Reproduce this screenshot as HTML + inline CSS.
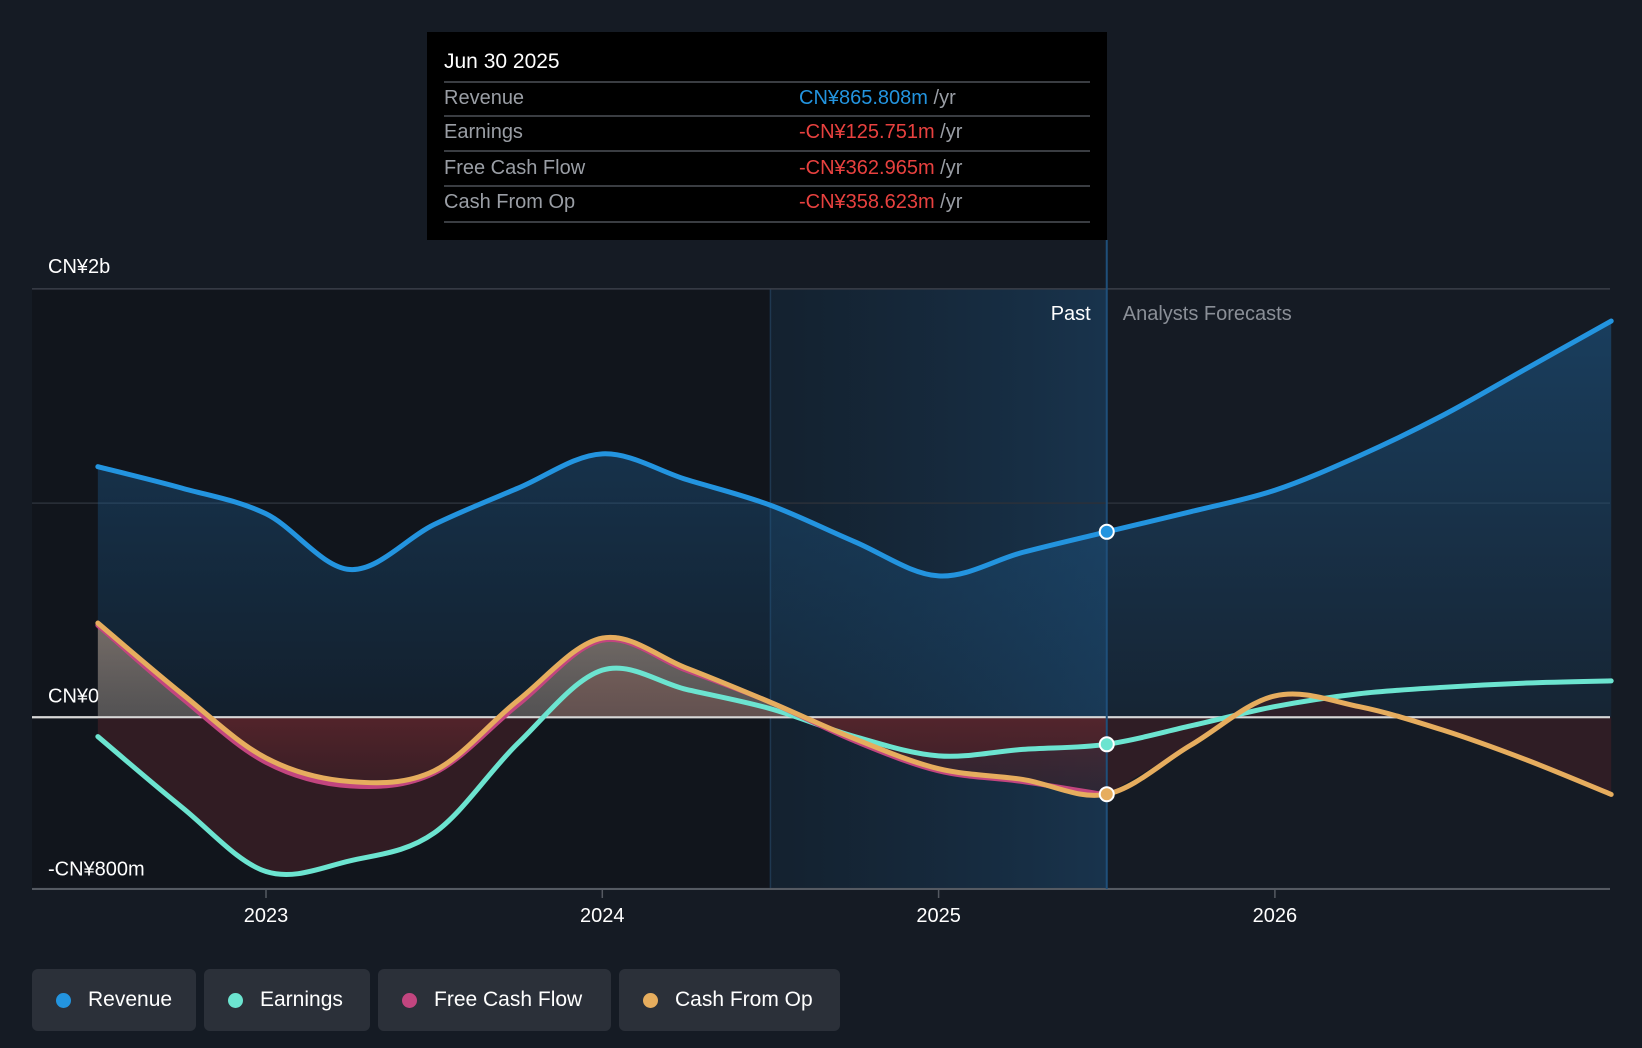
<!DOCTYPE html>
<html><head><meta charset="utf-8"><style>
body{margin:0;background:#151b24;width:1642px;height:1048px;overflow:hidden;font-family:"Liberation Sans",sans-serif;}
svg{position:absolute;left:0;top:0}
.leg{position:absolute;top:969px;height:62px;background:#2b3039;border-radius:6px;color:#fff;font-size:21px;display:flex;align-items:center}
.leg i{display:inline-block;width:15px;height:15px;border-radius:50%;margin:0 17px 0 24px}
.tl{position:absolute;left:17px;color:#9a9ea5;font-size:20px;line-height:24px}
.tv{position:absolute;left:372px;color:#9a9ea5;font-size:20px;line-height:24px}
.ln{position:absolute;left:17px;right:17px;border-top:2px solid #3a3d42}
</style></head><body>
<svg width="1642" height="1048" id="ch">
<defs>
<linearGradient id="revg" x1="0" y1="0" x2="0" y2="1"><stop offset="0" stop-color="#1d5a8c" stop-opacity="0.55"/><stop offset="1" stop-color="#1d5a8c" stop-opacity="0.15"/></linearGradient>
<linearGradient id="pastg" x1="0" y1="0" x2="1" y2="0"><stop offset="0" stop-color="#123049" stop-opacity="0.3"/><stop offset="1" stop-color="#1a3e5e" stop-opacity="0.7"/></linearGradient>
<linearGradient id="negg" x1="0" y1="0" x2="0" y2="1"><stop offset="0" stop-color="#8a2f35" stop-opacity="0.9"/><stop offset="1" stop-color="#3a1f26" stop-opacity="0.6"/></linearGradient>
<linearGradient id="posg" x1="0" y1="0" x2="0" y2="1"><stop offset="0" stop-color="#b59a86" stop-opacity="0.6"/><stop offset="1" stop-color="#7a7470" stop-opacity="0.4"/></linearGradient>
</defs>
</svg>
<div style="position:absolute;left:427px;top:32px;width:680px;height:208px;background:#000">
<div style="position:absolute;left:17px;top:18px;color:#fff;font-size:21px;font-weight:500">Jun 30 2025</div>
<div class="ln" style="top:49px"></div>
<div class="ln" style="top:83px"></div>
<div class="ln" style="top:118px"></div>
<div class="ln" style="top:153px"></div>
<div class="ln" style="top:189px"></div>
<div class="tl" style="top:54px">Revenue</div>
<div class="tl" style="top:88px">Earnings</div>
<div class="tl" style="top:124px">Free Cash Flow</div>
<div class="tl" style="top:158px">Cash From Op</div>
<div class="tv" style="top:54px"><span style="color:#2394df">CN¥865.808m</span> /yr</div>
<div class="tv" style="top:88px"><span style="color:#e8413f">-CN¥125.751m</span> /yr</div>
<div class="tv" style="top:124px"><span style="color:#e8413f">-CN¥362.965m</span> /yr</div>
<div class="tv" style="top:158px"><span style="color:#e8413f">-CN¥358.623m</span> /yr</div>
</div>
<div class="leg" style="left:32px;width:164px"><i style="background:#2394df"></i>Revenue</div>
<div class="leg" style="left:204px;width:166px"><i style="background:#6ce4d0"></i>Earnings</div>
<div class="leg" style="left:378px;width:233px"><i style="background:#c2457f"></i>Free Cash Flow</div>
<div class="leg" style="left:619px;width:221px"><i style="background:#e6ad5e"></i>Cash From Op</div>
<script>
const dates=[2022.5,2022.75,2023,2023.25,2023.5,2023.75,2024,2024.25,2024.5,2024.75,2025,2025.25,2025.5,2025.75,2026,2026.25,2026.5,2026.75,2027];
const revenue=[1.17,1.07,0.95,0.69,0.90,1.07,1.23,1.11,0.99,0.82,0.66,0.77,0.866,0.96,1.06,1.22,1.41,1.63,1.85];
const earnings=[-0.09,-0.42,-0.72,-0.67,-0.54,-0.12,0.22,0.13,0.04,-0.09,-0.18,-0.15,-0.126,-0.04,0.05,0.11,0.14,0.16,0.17];
const fcf=[0.43,0.09,-0.21,-0.32,-0.26,0.06,0.36,0.22,0.07,-0.11,-0.25,-0.30,-0.363];
const cfo=[0.44,0.11,-0.19,-0.30,-0.25,0.08,0.37,0.23,0.07,-0.10,-0.24,-0.29,-0.359,-0.13,0.10,0.05,-0.06,-0.20,-0.36];
const yTicks=[2,0,-0.8];const yLabels=["CN¥2b","CN¥0","-CN¥800m"];
const xTicks=[2023,2024,2025,2026];
const NS="http://www.w3.org/2000/svg",svg=document.getElementById('ch');
const X=d=>266+(d-2023)*336.3, Y=v=>717.3-v*214.2;
function el(t,a,p){const e=document.createElementNS(NS,t);for(const k in a)e.setAttribute(k,a[k]);(p||svg).appendChild(e);return e;}
function path(xs,ys){const P=xs.map((x,i)=>[X(x),Y(ys[i])]);let d=`M${P[0][0]},${P[0][1]}`;
for(let i=0;i<P.length-1;i++){const p0=P[i-1]||P[i],p1=P[i],p2=P[i+1],p3=P[i+2]||p2;
d+=`C${p1[0]+(p2[0]-p0[0])/6},${p1[1]+(p2[1]-p0[1])/6} ${p2[0]-(p3[0]-p1[0])/6},${p2[1]-(p3[1]-p1[1])/6} ${p2[0]},${p2[1]}`;}return d;}
const past=dates.slice(0,13);
let r=el('rect',{x:32,y:289,width:X(2024.5)-32,height:600,fill:'#11151c'});

r=el('rect',{x:X(2024.5),y:289,width:X(2025.5)-X(2024.5),height:600,fill:'url(#pastg)'});

el('line',{x1:X(2024.5),x2:X(2024.5),y1:289,y2:889,stroke:'#1f3850','stroke-width':1.5});
const lblDy=[-16,-15,-13];
yTicks.forEach((t,i)=>{const g=el('line',{x1:32,x2:1610,y1:Y(t),y2:Y(t),stroke:i==1?'#d8d8d8':'#3a3f48','stroke-width':i==1?2:1.5});

const tx=el('text',{x:48,y:Y(t)+lblDy[i],fill:'#fff','font-size':20});tx.textContent=yLabels[i];
});
el('line',{x1:32,x2:1610,y1:Y(1),y2:Y(1),stroke:'#2b313a','stroke-width':1.5});
xTicks.forEach(t=>{el('line',{x1:X(t),x2:X(t),y1:889,y2:898,stroke:'#555a62','stroke-width':1.5});
const tx=el('text',{x:X(t),y:922,fill:'#fff','font-size':20,'text-anchor':'middle'});tx.textContent=t;
});
const z=Y(0);
let a=el('path',{d:path(dates,revenue)+`L${X(2027)},${z}L${X(2022.5)},${z}Z`,fill:'url(#revg)'});

a=el('path',{d:path(past,earnings.slice(0,13))+`L${X(2025.5)},${z}L${X(2022.5)},${z}Z`,fill:'#3a1e26',opacity:0.8});

el('clipPath',{id:'neg'});el('rect',{x:0,y:z,width:1642,height:300},svg.lastChild);
el('clipPath',{id:'pos'});el('rect',{x:0,y:0,width:1642,height:z},svg.lastChild);
a=el('path',{d:path(past,fcf)+`L${X(2025.5)},${z}L${X(2022.5)},${z}Z`,fill:'url(#negg)','clip-path':'url(#neg)'});

a=el('path',{d:path(past,fcf)+`L${X(2025.5)},${z}L${X(2022.5)},${z}Z`,fill:'url(#posg)','clip-path':'url(#pos)'});

a=el('path',{d:path(dates.slice(12),cfo.slice(12))+`L${X(2027)},${z}L${X(2025.5)},${z}Z`,fill:'#3a1e26',opacity:0.7});

el('line',{x1:32,x2:1610,y1:z,y2:z,stroke:'#d8d8d8','stroke-width':2});
el('line',{x1:32,x2:1610,y1:889,y2:889,stroke:'#555a62','stroke-width':2});
el('line',{x1:X(2025.5),x2:X(2025.5),y1:240,y2:889,stroke:'#1f4f7a','stroke-width':2});
[[earnings,dates,'#6ce4d0','earnings-line'],[fcf,past,'#c2457f','fcf-line'],[cfo,dates,'#e6ad5e','cfo-line'],[revenue,dates,'#2394df','revenue-line']].forEach(([v,d,c,n])=>{
const p=el('path',{d:path(d,v),fill:'none',stroke:c,'stroke-width':5,'stroke-linecap':'round'});
});
[[revenue,'#2394df','revenue-marker'],[earnings,'#6ce4d0','earnings-marker'],[cfo,'#e6ad5e','cfo-marker']].forEach(([v,c,n])=>{
const m=el('circle',{cx:X(2025.5),cy:Y(v[12]),r:7,fill:c,stroke:'#fff','stroke-width':2});
});
let t=el('text',{x:X(2025.5)-16,y:320,fill:'#fff','font-size':20,'text-anchor':'end'});t.textContent='Past';

t=el('text',{x:X(2025.5)+16,y:320,fill:'#8a8f97','font-size':20});t.textContent='Analysts Forecasts';

</script>
</body></html>
